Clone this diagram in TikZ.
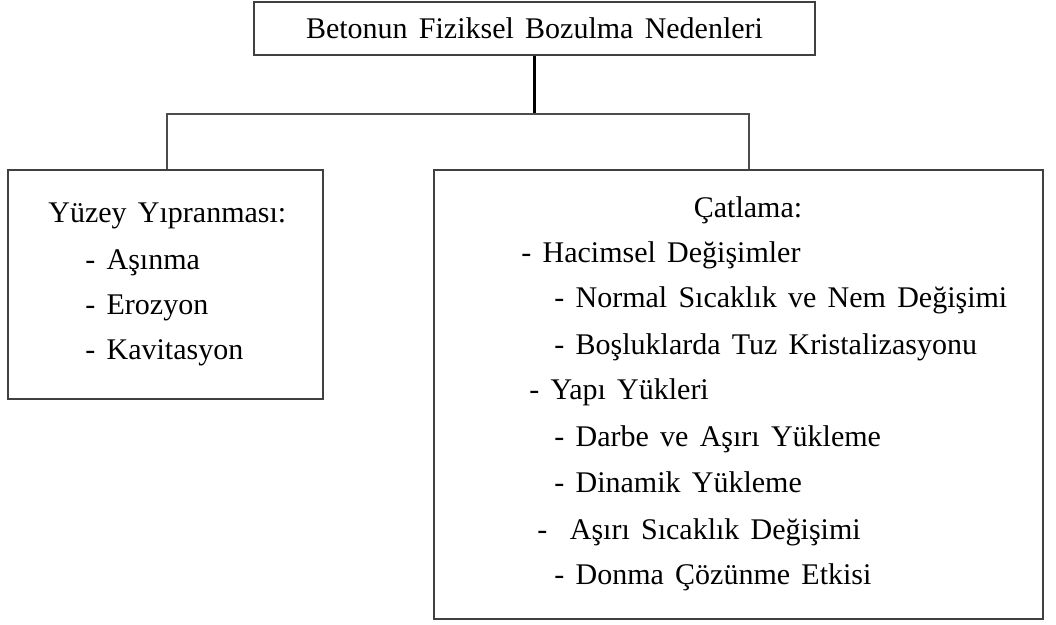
\documentclass[tikz,border=0pt]{standalone}
\usepackage{fontspec}
\setmainfont{Liberation Serif}[WordSpace=1.5]
\usetikzlibrary{positioning}

\begin{document}
\begin{tikzpicture}[x=0.5pt,y=-0.5pt,
  box/.style={draw=black!75,line width=1pt,inner sep=0pt},
  line/.style={inner sep=0pt,anchor=base west,font=\fontsize{15}{18}\selectfont},
  link/.style={black!70,line width=0.8pt}]
\useasboundingbox (0,0) rectangle (1056,625);

% main box and the two groups
\node[box,minimum width=280.5pt,minimum height=26.5pt,font=\fontsize{15}{18}\selectfont] (main) at (534.5,28.5) {Betonun Fiziksel Bozulma Nedenleri};
\node[box,minimum width=157.5pt,minimum height=114.5pt] (wear) at (165.5,284.5) {};
\node[box,minimum width=304.5pt,minimum height=224.5pt] (crack) at (738.5,394.5) {};

% tree connectors
\coordinate (lefttee) at (167,114);
\coordinate (righttee) at (749,114);
\draw[line width=1.5pt] (main.south) -- (main.south |- lefttee);
\draw[link] (wear.north -| lefttee) -- (lefttee) -- (righttee) -- (crack.north -| righttee);

% surface wear
\node[line] (w0) at (48,223) {Yüzey Yıpranması:};
\node[line] (w1) at (85,270) {- Aşınma};
\node[line] (w2) at (85,315) {- Erozyon};
\node[line] (w3) at (85,360) {- Kavitasyon};

% cracking
\node[line,anchor=base] (c0) at (748,218) {Çatlama:};
\node[line] (c1) at (521,263) {- Hacimsel Değişimler};
\node[line] (c2) at (554,308) {- Normal Sıcaklık ve Nem Değişimi};
\node[line] (c3) at (554,355) {- Boşluklarda Tuz Kristalizasyonu};
\node[line] (c4) at (529,400) {- Yapı Yükleri};
\node[line] (c5) at (554,447) {- Darbe ve Aşırı Yükleme};
\node[line] (c6) at (554,493) {- Dinamik Yükleme};
\node[line] (c7) at (537,540) {- \ Aşırı Sıcaklık Değişimi};
\node[line] (c8) at (554,585) {- Donma Çözünme Etkisi};
\end{tikzpicture}
\end{document}
